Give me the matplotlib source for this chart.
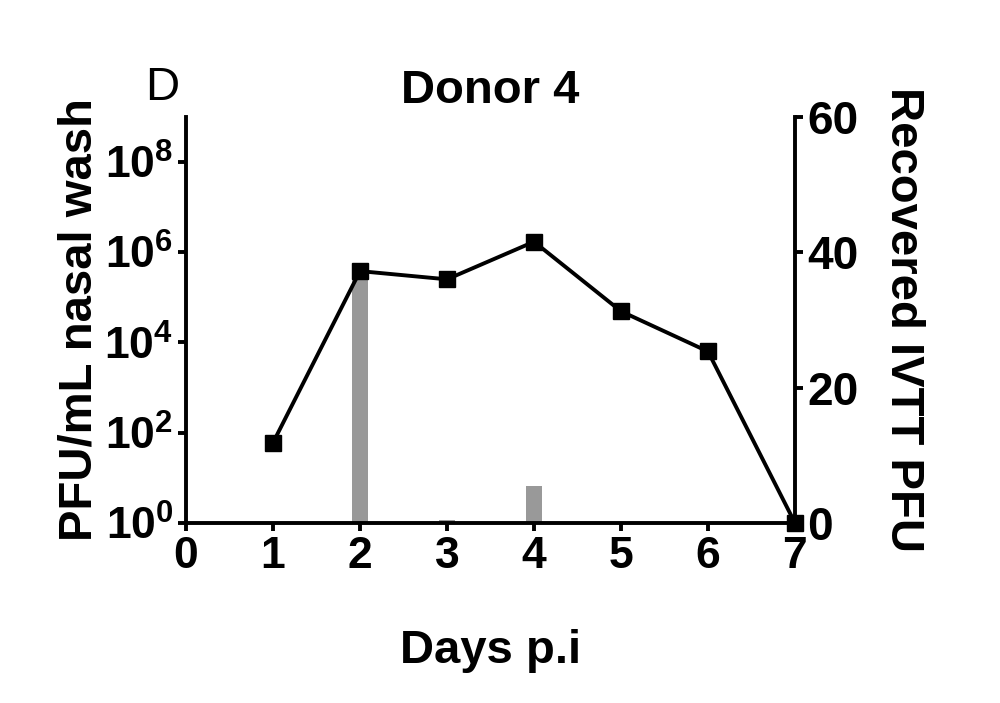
import matplotlib
matplotlib.use("Agg")
import matplotlib.pyplot as plt

days = [1, 2, 3, 4, 5, 6, 7]
pfu_nasal = [60, 3.8e5, 2.5e5, 1.7e6, 4.9e4, 6.3e3, 1]
bar_days = [2, 3, 4]
ivtt_pfu = [37, 0.5, 5.5]
xticks = [0, 1, 2, 3, 4, 5, 6, 7]
left_ticks = [1, 1e2, 1e4, 1e6, 1e8]
left_labels = [r'$\mathbf{10^{0}}$', r'$\mathbf{10^{2}}$', r'$\mathbf{10^{4}}$',
               r'$\mathbf{10^{6}}$', r'$\mathbf{10^{8}}$']
right_ticks = [0, 20, 40, 60]

plt.rcParams['font.family'] = ['Liberation Sans', 'DejaVu Sans']
plt.rcParams['mathtext.fontset'] = 'custom'
plt.rcParams['mathtext.rm'] = 'Liberation Sans'
plt.rcParams['mathtext.bf'] = 'Liberation Sans:bold'

fig = plt.figure(figsize=(10, 7.03), dpi=100)
ax = fig.add_axes([0.186, 0.256, 0.609, 0.578])
ax2 = ax.twinx()

fs_tick = 31
fs_lab = 34
lw_sp = 2.8

ax2.bar(bar_days, ivtt_pfu, width=0.18, color='#999999', zorder=1)
ax2.set_ylim(0, 60)
ax2.set_yticks(right_ticks)
ax2.set_yticklabels([str(t) for t in right_ticks], fontsize=fs_tick + 2, fontweight='bold')

ax.plot(days, pfu_nasal, color='black', lw=2.8, marker='s', markersize=11,
        clip_on=False, zorder=5)
ax.set_yscale('log')
ax.set_ylim(1, 1e9)
ax.set_xlim(0, 7)
ax.set_yticks(left_ticks)
ax.set_yticklabels(left_labels, fontsize=fs_tick + 1)
ax.yaxis.set_minor_locator(matplotlib.ticker.NullLocator())
ax.set_xticks(xticks)
ax.set_xticklabels([str(t) for t in xticks], fontsize=fs_tick + 1, fontweight='bold')

ax.set_zorder(ax2.get_zorder() + 1)
ax.patch.set_visible(False)

for a in (ax, ax2):
    a.spines['top'].set_visible(False)
    for s in a.spines.values():
        s.set_linewidth(lw_sp)
    a.tick_params(width=lw_sp, length=6, direction='out', pad=3)
ax.spines['right'].set_visible(False)
ax2.spines['left'].set_visible(False)
ax2.spines['bottom'].set_visible(False)

ax.set_xlabel('Days p.i', fontsize=fs_lab, fontweight='bold', labelpad=38)
ax.set_ylabel('PFU/mL nasal wash', fontsize=fs_lab, fontweight='bold', labelpad=2)
ax2.set_ylabel('Recovered IVTT PFU', fontsize=fs_lab, fontweight='bold',
               rotation=-90, labelpad=48)
ax.set_title('Donor 4', fontsize=fs_lab, fontweight='bold', pad=10)
fig.text(0.162, 0.875, 'D', fontsize=fs_lab, ha='center', va='center')

fig.savefig('out.png', dpi=100, facecolor='white')
